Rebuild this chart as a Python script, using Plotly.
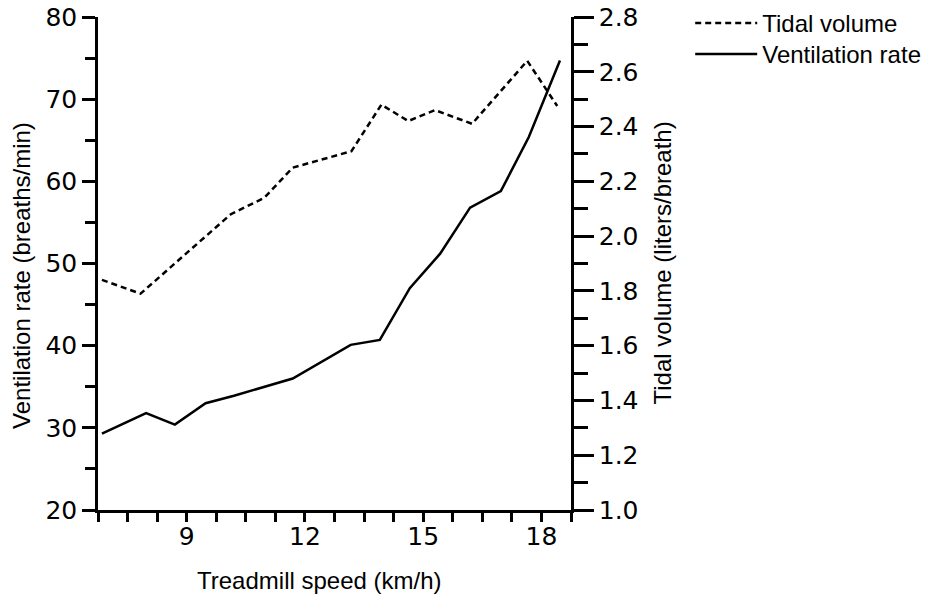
import plotly.graph_objects as go

# Treadmill test: breathing response to running speed
speed_vr = [6.85, 7.97, 8.70, 9.48, 10.20, 11.69, 13.16, 13.90, 14.66, 15.43, 16.19, 16.97, 17.68, 18.47]
vent_rate = [29.3, 31.8, 30.4, 33.0, 33.9, 36.0, 40.1, 40.7, 47.0, 51.2, 56.8, 58.8, 65.4, 74.7]

speed_tv = [6.85, 7.83, 10.12, 10.97, 11.69, 13.18, 13.94, 14.62, 15.30, 16.24, 17.64, 18.40]
tidal_vol = [1.84, 1.79, 2.08, 2.14, 2.25, 2.31, 2.48, 2.42, 2.46, 2.41, 2.64, 2.475]

x_title = "Treadmill speed (km/h)"
y_title = "Ventilation rate (breaths/min)"
y2_title = "Tidal volume (liters/breath)"

TICK_FONT = dict(family="DejaVu Sans", size=25, color="black")
TEXT_FONT = dict(family="Liberation Sans", size=24, color="black")

fig = go.Figure()
fig.add_trace(go.Scatter(
    x=speed_tv, y=tidal_vol, name="Tidal volume", yaxis="y2", mode="lines",
    line=dict(color="black", width=2.5, dash="6px,4px"), legend="legend",
))
fig.add_trace(go.Scatter(
    x=speed_vr, y=vent_rate, name="Ventilation rate", mode="lines",
    line=dict(color="black", width=2.5), legend="legend2",
))

legend_style = dict(xanchor="left", yanchor="top", font=TEXT_FONT, itemwidth=62,
                    bgcolor="rgba(0,0,0,0)")

fig.update_layout(
    width=935, height=596,
    margin=dict(l=98, r=364, t=17, b=86, autoexpand=False),
    paper_bgcolor="white", plot_bgcolor="white",
    showlegend=True,
    legend=dict(x=1.252, y=1.0325, **legend_style),
    legend2=dict(x=1.252, y=0.9696, **legend_style),
    xaxis=dict(
        range=[6.75, 18.75], tickmode="linear", tick0=0, dtick=3,
        showline=True, linecolor="black", linewidth=2.5, mirror=False,
        ticks="outside", ticklen=9, tickwidth=2.5, tickcolor="black",
        minor=dict(tickmode="linear", tick0=0, dtick=0.75, ticks="outside",
                   ticklen=9, tickwidth=2.5, tickcolor="black"),
        showgrid=False, zeroline=False, tickfont=TICK_FONT, ticklabelstandoff=-7,
    ),
    yaxis=dict(
        range=[20, 80], tickmode="linear", tick0=0, dtick=10,
        showline=True, linecolor="black", linewidth=2.5,
        ticks="outside", ticklen=13, tickwidth=2.5, tickcolor="black",
        minor=dict(tickmode="linear", tick0=0, dtick=5, ticks="outside",
                   ticklen=10, tickwidth=2.5, tickcolor="black"),
        showgrid=False, zeroline=False, tickfont=TICK_FONT,
    ),
    yaxis2=dict(
        range=[1.0, 2.8], overlaying="y", side="right",
        tickmode="linear", tick0=0, dtick=0.2, tickformat=".1f",
        showline=True, linecolor="black", linewidth=2.5,
        ticks="outside", ticklen=20, tickwidth=3, tickcolor="black",
        minor=dict(tickmode="linear", tick0=0, dtick=0.1, ticks="outside",
                   ticklen=14, tickwidth=3, tickcolor="black"),
        showgrid=False, zeroline=False, tickfont=TICK_FONT,
    ),
    annotations=[
        dict(text=x_title, xref="paper", yref="paper", x=0.4693, y=-0.144,
             xanchor="center", yanchor="middle", showarrow=False, font=TEXT_FONT),
        dict(text=y_title, xref="paper", yref="paper", x=-0.1607, y=0.4767,
             xanchor="center", yanchor="middle", textangle=-90, showarrow=False,
             font=TEXT_FONT),
        dict(text=y2_title, xref="paper", yref="paper", x=1.1945, y=0.502,
             xanchor="center", yanchor="middle", textangle=-90, showarrow=False,
             font=TEXT_FONT),
    ],
)

fig.write_html("out.html")
